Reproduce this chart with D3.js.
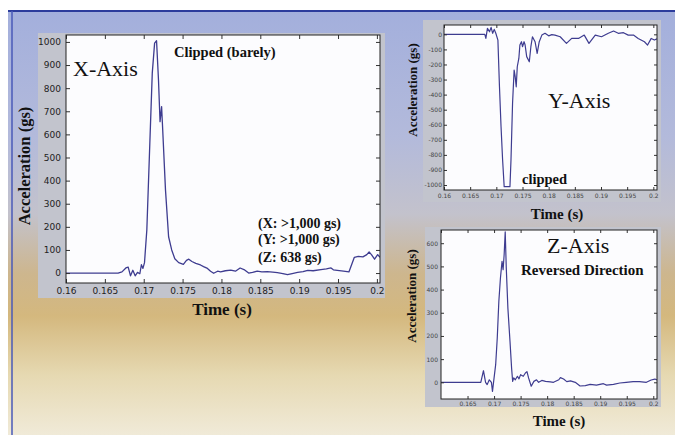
<!DOCTYPE html>
<meta charset="utf-8">
<script src="https://d3js.org/d3.v7.min.js"></script>
<style>
body{margin:0;background:#fff;}
svg{display:block;}
.tick text{font-family:"DejaVu Sans", Arial, sans-serif;}
.serif{font-family:"Liberation Serif","Times New Roman",serif;fill:#111;}
</style>
<div id="chart"></div>
<script>
// ---- X-Axis trace (time s, acceleration gs)
var xTime  = [0.1600,0.1667,0.1672,0.1677,0.1680,0.1683,0.1686,0.1689,0.1692,0.1695,0.1697,0.1699,0.1701,0.1704,0.1708,0.1711,0.1714,0.17165,0.1719,0.1721,0.1723,0.1724,0.1728,0.1732,0.1736,0.1740,0.1745,0.1751,0.1755,0.1758,0.1762,0.1767,0.1773,0.1777,0.1782,0.1786,0.1790,0.1795,0.1799,0.1805,0.1812,0.1818,0.1824,0.1829,0.1835,0.1840,0.1846,0.1852,0.1859,0.1866,0.1872,0.1879,0.1885,0.1891,0.1898,0.1905,0.1911,0.1918,0.1928,0.1935,0.1941,0.1944,0.1949,0.1957,0.1964,0.1971,0.1976,0.1982,0.1987,0.1990,0.1993,0.1997,0.2001,0.2004];
var xAccel = [0,0,5,22,26,-12,12,-12,3,-3,36,20,45,187,576,865,995,1005,835,655,720,650,360,157,100,62,45,38,55,60,50,42,35,28,20,8,-1,8,5,10,13,8,22,15,0,3,8,5,6,4,2,-2,-7,-2,3,6,12,10,15,18,22,14,12,8,5,68,72,70,80,91,80,60,80,68];

// ---- Y-Axis trace
var yTime  = [0.1600,0.1678,0.1680,0.1683,0.1687,0.1690,0.1693,0.1696,0.1699,0.1703,0.1706,0.1709,0.1712,0.1715,0.1726,0.1728,0.1731,0.1734,0.1736,0.1738,0.1740,0.1743,0.1745,0.1748,0.1750,0.1753,0.1755,0.1758,0.1763,0.1766,0.1769,0.1774,0.1778,0.1782,0.1787,0.1793,0.1800,0.1806,0.1812,0.1822,0.1834,0.1844,0.1857,0.1868,0.1877,0.1889,0.1901,0.1914,0.1924,0.1933,0.1943,0.1952,0.1962,0.1971,0.1983,0.1989,0.1996,0.2002,0.2007];
var yAccel = [0,0,-27,40,17,46,7,33,7,-38,-348,-613,-834,-1011,-1011,-834,-458,-237,-281,-348,-215,-160,-71,-49,-82,-49,-71,-148,-182,-82,-16,-49,-126,-49,-5,7,-10,-2,-5,-16,-60,-27,-27,-5,-60,-5,-16,7,22,7,11,-5,-5,-27,-49,-71,-27,-38,-30];

// ---- Z-Axis trace
var zTime  = [0.1600,0.1672,0.1675,0.1680,0.1684,0.1687,0.1691,0.1695,0.1697,0.1700,0.1703,0.1706,0.1709,0.1712,0.1715,0.1717,0.1719,0.1721,0.1723,0.1726,0.1730,0.1733,0.1735,0.1737,0.1740,0.1744,0.1747,0.1750,0.1755,0.1759,0.1762,0.1765,0.1770,0.1775,0.1780,0.1784,0.1790,0.1797,0.1806,0.1812,0.1822,0.1825,0.1831,0.1837,0.1844,0.1853,0.1862,0.1872,0.1881,0.1893,0.1906,0.1912,0.1925,0.1937,0.1949,0.1962,0.1974,0.1987,0.1996,0.2003,0.2007];
var zAccel = [0,0,0,50,0,-10,11,0,-39,19,76,191,350,450,522,486,551,649,493,321,177,62,4,19,11,26,15,33,26,40,46,19,-17,4,11,0,8,4,2,0,11,20,14,3,6,0,-16,-14,-9,-12,-6,-12,-9,-3,0,3,3,0,10,14,10];

// ---- tick values
var timeTicks   = [0.16,0.165,0.17,0.175,0.18,0.185,0.19,0.195,0.2];
var zTimeTicks  = [0.165,0.17,0.175,0.18,0.185,0.19,0.195,0.2];
var xAccelTicks = [0,100,200,300,400,500,600,700,800,900,1000];
var yAccelTicks = [0,-100,-200,-300,-400,-500,-600,-700,-800,-900,-1000];
var zAccelTicks = [0,100,200,300,400,500,600];

var W = 675, H = 435;
var svg = d3.select("#chart").append("svg").attr("width", W).attr("height", H);

// background
var grad = svg.append("defs").append("linearGradient")
    .attr("id", "bg").attr("x1", 0).attr("y1", 0).attr("x2", 0).attr("y2", 1);
[["0%","#a3afdc"],["30%","#b3badb"],["48%","#c3c2cc"],["62%","#cdb68e"],["72%","#d4b87e"],["86%","#e6d9b2"],["100%","#f0ead8"]]
  .forEach(function(s){ grad.append("stop").attr("offset", s[0]).attr("stop-color", s[1]); });

svg.append("rect").attr("x", 8).attr("y", 10).attr("width", W - 8).attr("height", H - 10).attr("fill", "url(#bg)");
svg.append("line").attr("x1", 8).attr("x2", W).attr("y1", 11).attr("y2", 11).attr("stroke", "#2c3c9c").attr("stroke-width", 2);
svg.append("line").attr("x1", 12).attr("x2", 12).attr("y1", 11).attr("y2", H).attr("stroke", "#4a5ab8").attr("stroke-width", 1.5);

function drawPanel(p, id) {
  var g = svg.append("g");
  g.append("rect")
    .attr("x", p.frame[0]).attr("y", p.frame[1])
    .attr("width", p.frame[2] - p.frame[0]).attr("height", p.frame[3] - p.frame[1])
    .attr("fill", "#c2c4cd");

  var x = d3.scaleLinear().domain(p.xDomain).range([p.plot[0], p.plot[2]]);
  var y = d3.scaleLinear().domain(p.yDomain).range([p.plot[3], p.plot[1]]);

  g.append("rect")
    .attr("x", p.plot[0]).attr("y", p.plot[1])
    .attr("width", p.plot[2] - p.plot[0]).attr("height", p.plot[3] - p.plot[1])
    .attr("fill", "#fcfcfe");

  g.append("clipPath").attr("id", "clip" + id).append("rect")
    .attr("x", p.plot[0]).attr("y", p.plot[1])
    .attr("width", p.plot[2] - p.plot[0]).attr("height", p.plot[3] - p.plot[1]);

  var pts = p.t.map(function(d, i){ return [d, p.v[i]]; });
  g.append("path")
    .datum(pts)
    .attr("clip-path", "url(#clip" + id + ")")
    .attr("fill", "none")
    .attr("stroke", "#3e3c90")
    .attr("stroke-width", p.lw)
    .attr("stroke-linejoin", "round")
    .attr("d", d3.line().x(function(d){ return x(d[0]); }).y(function(d){ return y(d[1]); }));

  var fmtT = function(d){ return String(+d.toFixed(3)); };
  var fmtA = function(d){ return String(d); };

  g.append("g").attr("transform", "translate(0," + p.plot[3] + ")")
    .call(d3.axisBottom(x).tickValues(p.xTicks).tickSize(-p.tick).tickPadding(p.padX).tickFormat(fmtT));
  g.append("g").attr("transform", "translate(" + p.plot[0] + ",0)")
    .call(d3.axisLeft(y).tickValues(p.yTicks).tickSize(-p.tick).tickPadding(p.padY).tickFormat(fmtA));
  g.append("g").attr("transform", "translate(0," + p.plot[1] + ")")
    .call(d3.axisTop(x).tickValues(timeTicks).tickSize(-p.tick).tickFormat(""));
  g.append("g").attr("transform", "translate(" + p.plot[2] + ",0)")
    .call(d3.axisRight(y).tickValues(p.yTicks).tickSize(-p.tick).tickFormat(""));

  g.selectAll(".domain").remove();
  g.selectAll(".tick line").attr("stroke", "#333");
  g.selectAll(".tick text").attr("fill", p.tickColor).attr("font-size", p.fs);

  g.append("rect")
    .attr("x", p.plot[0]).attr("y", p.plot[1])
    .attr("width", p.plot[2] - p.plot[0]).attr("height", p.plot[3] - p.plot[1])
    .attr("fill", "none").attr("stroke", "#222").attr("stroke-width", 1);

  g.append("text").attr("class", "serif")
    .attr("transform", "translate(" + p.yLab[0] + "," + p.yLab[1] + ") rotate(-90)")
    .attr("text-anchor", "middle").attr("font-weight", "bold").attr("font-size", p.yLab[2])
    .text("Acceleration (gs)");
  g.append("text").attr("class", "serif")
    .attr("x", p.xLab[0]).attr("y", p.xLab[1])
    .attr("text-anchor", "middle").attr("font-weight", "bold").attr("font-size", p.xLab[2])
    .text("Time (s)");

  p.notes.forEach(function(n){
    g.append("text").attr("class", "serif")
      .attr("x", n[1]).attr("y", n[2])
      .attr("font-size", n[3]).attr("font-weight", n[4] ? "bold" : "normal")
      .text(n[0]);
  });
}

drawPanel({
  frame: [38, 33, 385, 298], plot: [66, 35, 380, 283],
  xDomain: [0.16, 0.2004], yDomain: [-43, 1030],
  t: xTime, v: xAccel, xTicks: timeTicks, yTicks: xAccelTicks,
  tick: 4, padX: 5, padY: 5, fs: 9, tickColor: "#222", lw: 1.3,
  yLab: [30, 166, 16.5], xLab: [222, 315, 17],
  notes: [["X-Axis", 73, 76, 22, false], ["Clipped (barely)", 174, 57, 14.5, true],
          ["(X: >1,000 gs)", 258, 228, 14, true], ["(Y: >1,000 gs)", 258, 244, 14, true],
          ["(Z: 638 gs)", 258, 262, 14, true]]
}, "x");

drawPanel({
  frame: [423, 20, 661, 202], plot: [444, 25, 657, 190],
  xDomain: [0.16, 0.2007], yDomain: [-1033, 62],
  t: yTime, v: yAccel, xTicks: timeTicks, yTicks: yAccelTicks,
  tick: 3, padX: 4, padY: 2, fs: 6, tickColor: "#444", lw: 1.2,
  yLab: [417, 90, 13], xLab: [557, 219, 15],
  notes: [["Y-Axis", 548, 108, 22, false], ["clipped", 522, 184, 14.5, true]]
}, "y");

drawPanel({
  frame: [425, 227, 661, 407], plot: [441, 230, 657, 399],
  xDomain: [0.16, 0.2007], yDomain: [-72, 657],
  t: zTime, v: zAccel, xTicks: zTimeTicks, yTicks: zAccelTicks,
  tick: 3, padX: 3, padY: 3, fs: 6, tickColor: "#444", lw: 1.2,
  yLab: [416, 296, 13], xLab: [559, 426, 15],
  notes: [["Z-Axis", 547, 253, 22, false], ["Reversed Direction", 521, 275, 15, true]]
}, "z");
</script>
